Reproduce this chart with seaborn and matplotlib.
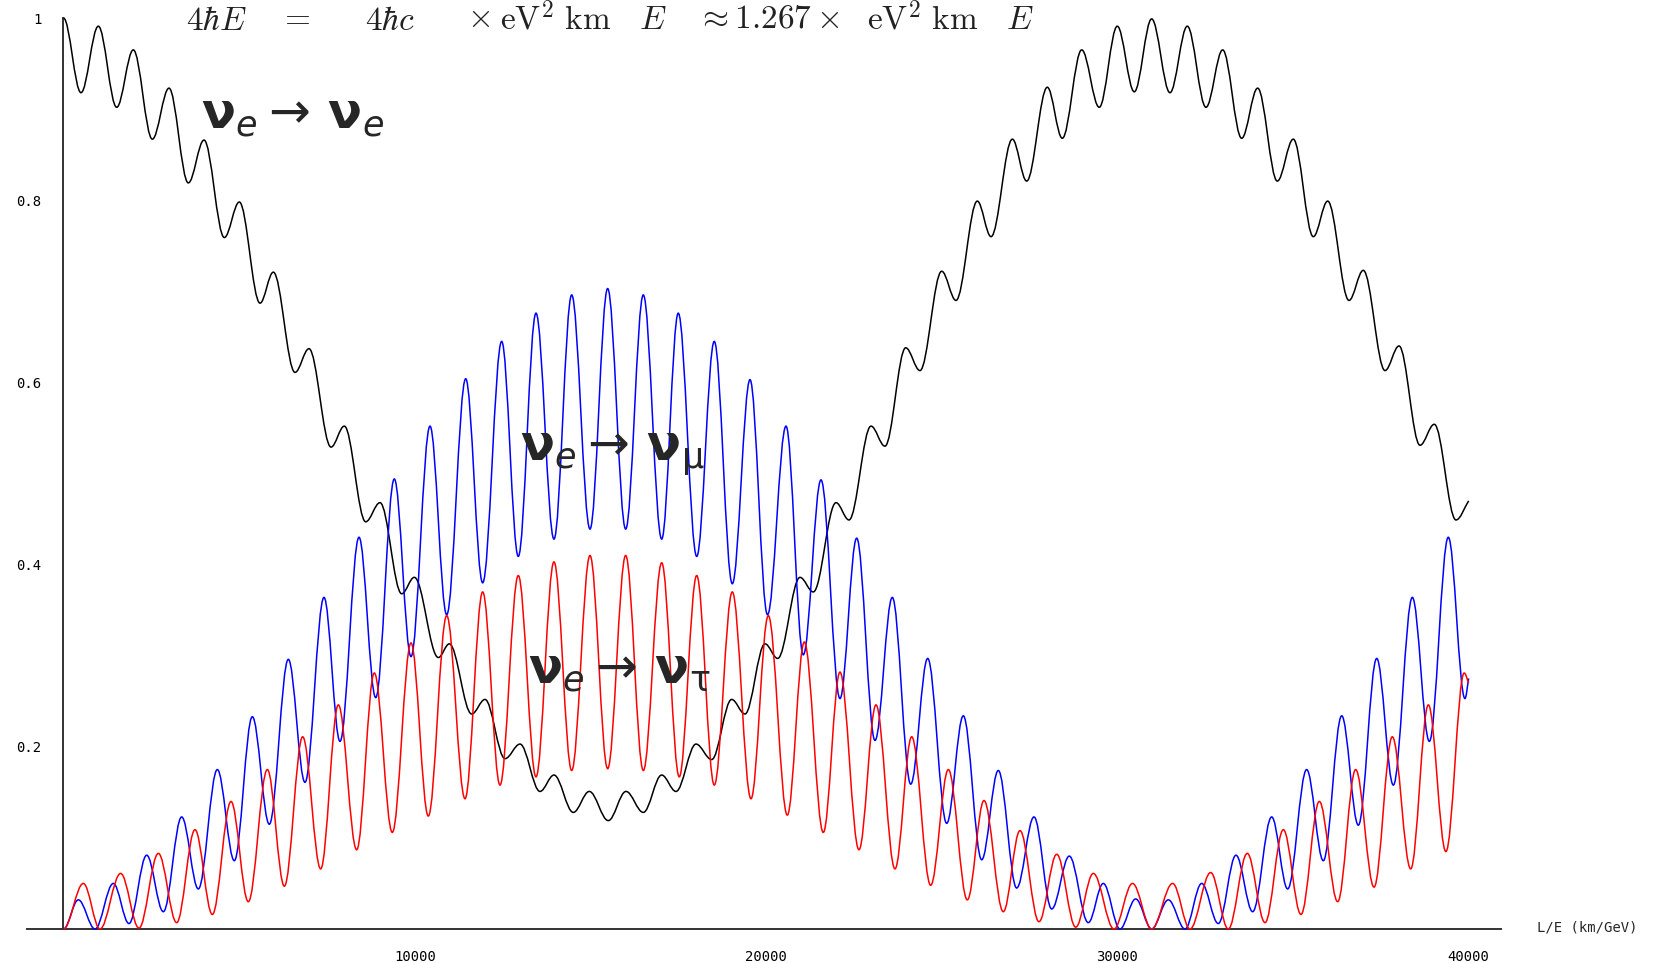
import pandas as pd
import seaborn as sns
import matplotlib.pyplot as plt
from matplotlib.path import Path
from matplotlib.patches import PathPatch

#=========================
# DATA (peaks and troughs)
#=========================

# nu_e -> nu_e (black)
ee_x = [0, 498, 991, 1514, 1987, 2529, 3003, 3553, 4000, 4578, 5005, 5594, 5973, 6590, 6988,
        7615, 7994, 8602, 9010, 9627, 9987, 10670, 10983, 11620, 11999, 12568, 12995, 13564,
        13962, 14512, 14967, 15508, 16012, 16505, 17028, 17435, 18005, 18451, 19020, 19399,
        19969, 20330, 20965, 21344, 21990, 22360, 22986, 23384, 23974, 24381, 24998, 25406,
        26012, 26404, 27010, 27418, 28005, 28432, 28984, 29484, 29997, 30481, 30976, 31497,
        31990, 32522, 32997, 33538, 33993, 34552, 35007, 35577, 35987, 36593, 37000, 37618,
        38017, 38614, 39021, 39638, 40000]
ee_y = [1.0, 0.918, 0.991, 0.902, 0.965, 0.867, 0.923, 0.819, 0.866, 0.759, 0.798, 0.687, 0.721,
        0.611, 0.637, 0.529, 0.552, 0.447, 0.468, 0.368, 0.386, 0.298, 0.313, 0.236, 0.252,
        0.187, 0.203, 0.151, 0.169, 0.128, 0.151, 0.119, 0.151, 0.128, 0.169, 0.151, 0.203,
        0.186, 0.252, 0.236, 0.313, 0.297, 0.386, 0.370, 0.468, 0.449, 0.552, 0.530, 0.638,
        0.613, 0.722, 0.690, 0.799, 0.760, 0.867, 0.821, 0.924, 0.868, 0.965, 0.902, 0.991,
        0.919, 0.999, 0.918, 0.991, 0.902, 0.965, 0.868, 0.923, 0.821, 0.867, 0.760, 0.799,
        0.690, 0.723, 0.613, 0.640, 0.531, 0.554, 0.449, 0.470]

# nu_e -> nu_mu (blue)
emu_x = [0, 422, 897, 1418, 1865, 2368, 2842, 3364, 3838, 4379, 4863, 5375, 5859, 6400, 6874,
         7415, 7871, 8412, 8887, 9417, 9892, 10433, 10908, 11449, 11932, 12473, 12946, 13450,
         13962, 14466, 14987, 15490, 16003, 16505, 17028, 17500, 18025, 18525, 19038, 19542,
         20040, 20567, 21059, 21563, 22103, 22579, 23100, 23593, 24117, 24600, 25141, 25614,
         26137, 26610, 27133, 27626, 28130, 28631, 29171, 29598, 30074, 30520, 30976, 31450,
         31925, 32400, 32873, 33376, 33851, 34392, 34848, 35388, 35862, 36385, 36859, 37382,
         37855, 38396, 38880, 39420, 39894, 40000]
emu_y = [0.0, 0.032, 0.0, 0.050, 0.006, 0.081, 0.019, 0.123, 0.044, 0.175, 0.075, 0.233, 0.115,
         0.296, 0.161, 0.364, 0.206, 0.430, 0.254, 0.494, 0.299, 0.552, 0.345, 0.604, 0.380,
         0.645, 0.409, 0.676, 0.428, 0.696, 0.439, 0.703, 0.439, 0.696, 0.428, 0.676, 0.409,
         0.645, 0.379, 0.603, 0.345, 0.552, 0.301, 0.493, 0.253, 0.429, 0.207, 0.364, 0.159,
         0.297, 0.116, 0.234, 0.076, 0.174, 0.045, 0.123, 0.022, 0.080, 0.007, 0.050, 0.0,
         0.033, 0.0, 0.032, 0.0, 0.050, 0.006, 0.081, 0.019, 0.123, 0.044, 0.175, 0.075, 0.234,
         0.114, 0.297, 0.158, 0.364, 0.206, 0.430, 0.253, 0.275]

# nu_e -> nu_tau (red)
etau_x = [0, 565, 1039, 1627, 2149, 2700, 3222, 3743, 4237, 4768, 5261, 5803, 6287, 6808, 7321,
          7823, 8346, 8848, 9360, 9892, 10385, 10908, 11429, 11932, 12425, 12946, 13450, 13962,
          14466, 14987, 15490, 16003, 16505, 17028, 17528, 18025, 18525, 19038, 19570, 20063,
          20604, 21088, 21628, 22103, 22644, 23128, 23669, 24145, 24685, 25188, 25728, 26203,
          26752, 27227, 27768, 28273, 28814, 29314, 29903, 30430, 30976, 31573, 32068, 32656,
          33157, 33697, 34203, 34724, 35226, 35748, 36271, 36783, 37306, 37826, 38350, 38852,
          39351, 39872, 40000]
etau_y = [0.0, 0.050, 0.0, 0.061, 0.001, 0.083, 0.007, 0.109, 0.016, 0.140, 0.030, 0.175, 0.047,
          0.211, 0.066, 0.246, 0.087, 0.281, 0.106, 0.314, 0.124, 0.344, 0.143, 0.370, 0.158,
          0.388, 0.167, 0.403, 0.174, 0.410, 0.176, 0.410, 0.174, 0.402, 0.167, 0.388, 0.158,
          0.370, 0.143, 0.344, 0.125, 0.315, 0.106, 0.282, 0.087, 0.246, 0.066, 0.211, 0.048,
          0.175, 0.032, 0.141, 0.019, 0.108, 0.008, 0.082, 0.002, 0.061, 0.0, 0.050, 0.0,
          0.050, 0.0, 0.062, 0.0, 0.083, 0.007, 0.109, 0.016, 0.140, 0.030, 0.175, 0.046, 0.211,
          0.066, 0.246, 0.085, 0.281, 0.270]

x_major = [10000, 20000, 30000, 40000]
x_minor = list(range(2000, 40001, 2000))
y_major = [0.2, 0.4, 0.6, 0.8, 1.0]
y_labels = ["0.2", "0.4", "0.6", "0.8", "1"]
y_minor = [i / 20 for i in range(1, 20)]

# Long-form table for seaborn
df = pd.concat([
    pd.DataFrame({"L/E": ee_x, "P": ee_y, "channel": "ee"}),
    pd.DataFrame({"L/E": emu_x, "P": emu_y, "channel": "emu"}),
    pd.DataFrame({"L/E": etau_x, "P": etau_y, "channel": "etau"}),
], ignore_index=True)


def wave_path(xs, ys, k=0.36):
    # Bezier segments with flat tangents at every peak/trough (all points but the last)
    verts = [(xs[0], ys[0])]
    codes = [Path.MOVETO]
    n = len(xs)
    for i in range(n - 1):
        x0, y0, x1, y1 = xs[i], ys[i], xs[i + 1], ys[i + 1]
        dx = x1 - x0
        c1 = (x0 + k * dx, y0)
        if i + 1 < n - 1:
            c2 = (x1 - k * dx, y1)
        else:
            c2 = (x1 - dx / 3, y1 - (y1 - y0) / 3)
        verts += [c1, c2, (x1, y1)]
        codes += [Path.CURVE4] * 3
    return Path(verts, codes)


#=========================
# PLOT
#=========================

sns.set_theme(style="white")
plt.rcParams["font.family"] = ["DejaVu Sans"]

W, H = 1669, 963
fig = plt.figure(figsize=(W / 100, H / 100), dpi=100)
ax = fig.add_axes([27 / W, (H - 929) / H, 1474 / W, 911 / H])

sns.lineplot(data=df, x="L/E", y="P", hue="channel", hue_order=["ee", "emu", "etau"],
             palette={"ee": "black", "emu": "#0000ff", "etau": "#ff0000"},
             estimator=None, sort=False, legend=False, linewidth=1.1, ax=ax)

# redraw each seaborn line as a smooth wave through the same points
for ln in list(ax.lines):
    xs, ys = ln.get_data()
    ax.add_patch(PathPatch(wave_path(list(xs), list(ys)), fill=False,
                           edgecolor=ln.get_color(), lw=ln.get_linewidth(),
                           zorder=2, clip_on=False))
    ln.remove()

ax.set_xlim(-1039, 40920)
ax.set_ylim(0, 1)
ax.set_xlabel("")
ax.set_ylabel("")

# Mathematica-style axes
for s in ["top", "right"]:
    ax.spines[s].set_visible(False)
ax.spines["left"].set_position(("data", 0))
ax.spines["left"].set_bounds(0, 1)
for s in ["left", "bottom"]:
    ax.spines[s].set_linewidth(1.4)
    ax.spines[s].set_color("#333333")
    ax.spines[s].set_zorder(1)

ax.set_xticks(x_major)
ax.set_xticklabels([str(v) for v in x_major])
ax.set_xticks(x_minor, minor=True)
ax.set_yticks(y_major)
ax.set_yticklabels(y_labels)
ax.set_yticks(y_minor, minor=True)
ax.tick_params(axis="both", which="both", direction="in", color="#333333", width=1.0,
               labelsize=10, labelcolor="black")
ax.tick_params(axis="x", which="major", length=7, pad=15)
ax.tick_params(axis="x", which="minor", length=4)
ax.tick_params(axis="y", which="both", length=7, pad=16)
for lab in ax.get_xticklabels() + ax.get_yticklabels():
    lab.set_family("DejaVu Sans Mono")

fig.text(1537 / W, 1 - 927 / H, "L/E (km/GeV)", family="DejaVu Sans Mono", fontsize=10,
         ha="left", va="center")

# Curve labels
lab_kw = dict(fontsize=36, math_fontfamily="dejavusans", ha="left", va="baseline")
fig.text(201 / W, 1 - 128 / H, r"$\mathbf{\nu}_{e}\rightarrow\,\mathbf{\nu}_{e}$", **lab_kw)
fig.text(520 / W, 1 - 461 / H,
         r"$\mathbf{\nu}_{e}\rightarrow\,\mathbf{\nu}_{\mathrm{\mu}}$", **lab_kw)
fig.text(528 / W, 1 - 683 / H,
         r"$\mathbf{\nu}_{e}\rightarrow\,\mathbf{\nu}_{\mathrm{\tau}}$", **lab_kw)

# Formula along the top edge
f_kw = dict(fontsize=24, math_fontfamily="cm", ha="left", va="baseline", color="#222222")
top_kw = dict(fontsize=24, math_fontfamily="cm", ha="left", va="top", color="#222222")
fig.text(186 / W, 1 - 30 / H, r"$4\hbar E$", **f_kw)
fig.text(279 / W, 1 - 1 / H, r"$=$", **top_kw)
fig.text(365 / W, 1 - 30 / H, r"$4\hbar c$", **f_kw)
fig.text(467 / W, 1 - 1 / H, r"$\times$", **top_kw)
fig.text(500 / W, 1 - 30 / H, r"$\mathrm{eV}^2\ \mathrm{km}\quad E$", **f_kw)
fig.text(697 / W, 1 - 1 / H, r"$\approx 1.267\times$", **top_kw)
fig.text(867 / W, 1 - 30 / H, r"$\mathrm{eV}^2\ \mathrm{km}\quad E$", **f_kw)

fig.savefig("out.png", dpi=100)
